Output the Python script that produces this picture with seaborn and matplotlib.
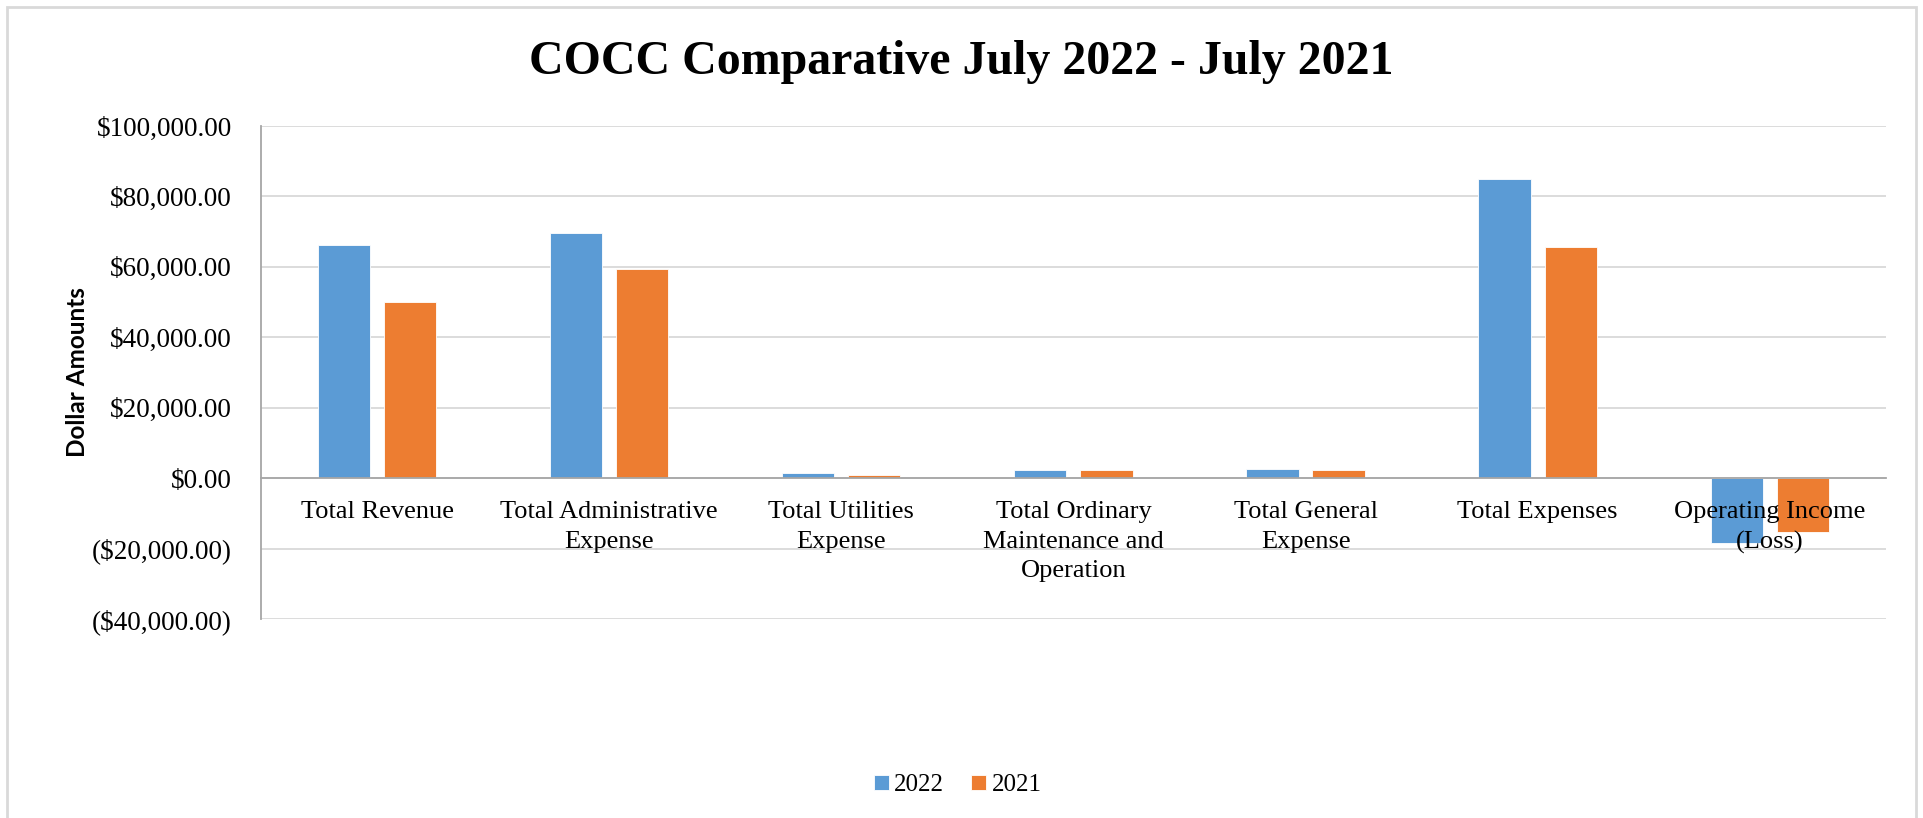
import numpy as np
import pandas as pd
import matplotlib
matplotlib.use("Agg")
import matplotlib.pyplot as plt
import seaborn as sns
from matplotlib.patches import Rectangle
from matplotlib.ticker import FuncFormatter

# -----------------------------------------------------------------------------
# DATA
# -----------------------------------------------------------------------------

categories = [
    "Total Revenue",
    "Total Administrative\nExpense",
    "Total Utilities\nExpense",
    "Total Ordinary\nMaintenance and\nOperation",
    "Total General\nExpense",
    "Total Expenses",
    "Operating Income\n(Loss)",
]
values_2022 = [66300, 69600, 1400, 2250, 2650, 84800, -18300]
values_2021 = [50000, 59400, 950, 2350, 2350, 65500, -15300]
years = ["2022", "2021"]
y_ticks = [-40000, -20000, 0, 20000, 40000, 60000, 80000, 100000]

df = pd.DataFrame({
    "category": categories * 2,
    "year": [years[0]] * len(categories) + [years[1]] * len(categories),
    "amount": values_2022 + values_2021,
})

palette = {"2022": "#5B9BD5", "2021": "#ED7D31"}

# -----------------------------------------------------------------------------
# PLOT
# -----------------------------------------------------------------------------

sns.set_style("white")
plt.rcParams["font.family"] = ["Liberation Serif", "DejaVu Serif"]
plt.rcParams.update({"text.color": "black", "axes.labelcolor": "black",
                     "xtick.color": "black", "ytick.color": "black"})

fig = plt.figure(figsize=(19.23, 8.18), dpi=100)
ax = fig.add_axes([0.1357, 0.2433, 0.845, 0.6027])

sns.barplot(data=df, x="category", y="amount", hue="year", order=categories,
            hue_order=years, palette=palette, saturation=1, width=0.57, gap=0.21,
            edgecolor="white", linewidth=0.6, ax=ax, legend=True)

# x axis sits on the zero line, like Excel (done first: it resets the ticks)
for s in ["top", "right"]:
    ax.spines[s].set_visible(False)
ax.spines["bottom"].set_position(("data", 0))
ax.spines["bottom"].set_color("#A6A6A6")
ax.spines["bottom"].set_linewidth(1.3)
ax.spines["left"].set_color("#A6A6A6")
ax.spines["left"].set_linewidth(1.3)

ax.set_ylim(-40000, 100000)
ax.set_xlim(-0.5, len(categories) - 0.5)
ax.set_yticks(y_ticks)
ax.yaxis.set_major_formatter(FuncFormatter(
    lambda v, p: f"${v:,.2f}" if v >= 0 else f"(${-v:,.2f})"))
ax.tick_params(axis="y", labelsize=19.5, length=0, pad=21, labelcolor="black")
ax.set_xticks(range(len(categories)))
ax.set_xticklabels(categories)
ax.tick_params(axis="x", labelsize=19, length=0, pad=16.5, labelcolor="black")
for lbl in ax.get_xticklabels():
    lbl.set_linespacing(1.45)
ax.grid(axis="y", color="#D9D9D9", linewidth=1.3)
ax.set_axisbelow(True)
# category labels are drawn over the bars (as in Excel)
ax.xaxis.set_zorder(3)

ax.set_xlabel("")
ax.set_ylabel("Dollar Amounts", fontsize=17.5, fontweight="bold",
              family=["Lato", "DejaVu Sans"], color="black")
ax.yaxis.set_label_coords(-0.106, 0.5)

fig.text(0.5, 0.9245, "COCC Comparative July 2022 - July 2021", fontsize=34.5,
         fontweight="bold", ha="center", va="center", color="black")

handles, labels = ax.get_legend_handles_labels()
ax.legend_.remove()
fig.legend(handles, labels, loc="center", bbox_to_anchor=(0.498, 0.040),
           ncol=2, frameon=False, fontsize=18, handlelength=0.6,
           handleheight=0.6, handletextpad=0.2, columnspacing=1.1)

# outer chart border
fig.add_artist(Rectangle((0.0036, -0.01), 0.9928, 1.0014, transform=fig.transFigure,
                         fill=False, edgecolor="#D9D9D9", linewidth=2))

plt.savefig("out.png", dpi=100)
plt.close()
